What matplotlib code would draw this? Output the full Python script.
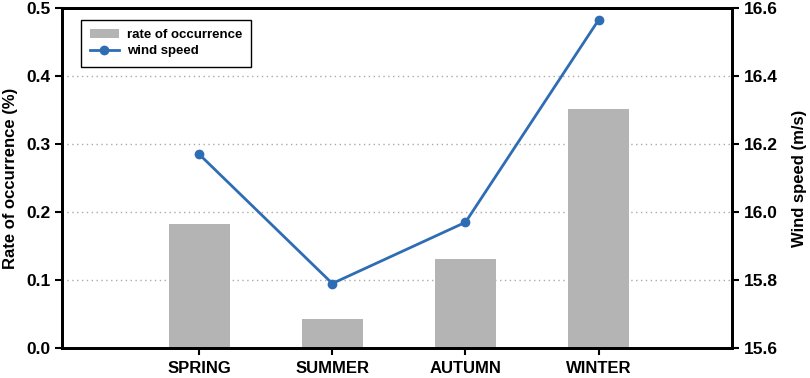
import matplotlib.pyplot as plt
import numpy as np

plt.rcParams['font.family'] = ['Liberation Sans', 'DejaVu Sans']
plt.rcParams['font.weight'] = 'bold'

# data
seasons = ['SPRING', 'SUMMER', 'AUTUMN', 'WINTER']
occurrence = [0.182, 0.043, 0.131, 0.351]
wind_speed = [16.17, 15.79, 15.97, 16.565]

bar_color = '#b4b4b4'
line_color = '#2e6db4'

fig = plt.figure(figsize=(8.1, 3.78), dpi=100)
ax = fig.add_axes([0.0765, 0.079, 0.827, 0.90])
x = np.arange(len(seasons))

bars = ax.bar(x, occurrence, width=0.46, color=bar_color, label='rate of occurrence', zorder=2)
ax.set_ylim(0, 0.5)
ax.set_xlim(-1.03, 4.0)
ax.set_yticks(np.arange(0, 0.51, 0.1))
ax.set_yticklabels(['%.1f' % v for v in np.arange(0, 0.51, 0.1)])
ax.set_xticks(x)
ax.set_xticklabels(seasons)
for yv in [0.1, 0.2, 0.3, 0.4]:
    ax.axhline(yv, color='#aaaaaa', linestyle=(0, (1, 2.5)), linewidth=1, zorder=1)
ax.set_ylabel('Rate of occurrence (%)', fontsize=12, fontweight='bold', labelpad=6)

ax2 = ax.twinx()
line, = ax2.plot(x, wind_speed, color=line_color, marker='o', markersize=6, linewidth=2, label='wind speed')
ax2.set_ylim(15.6, 16.6)
ax2.set_yticks(np.arange(15.6, 16.61, 0.2))
ax2.set_yticklabels(['%.1f' % v for v in np.arange(15.6, 16.61, 0.2)])
ax2.set_ylabel('Wind speed (m/s)', fontsize=12, fontweight='bold', labelpad=10)

for a in (ax, ax2):
    for s in a.spines.values():
        s.set_linewidth(2)
    a.tick_params(axis='both', direction='out', width=1.5, length=5, labelsize=12.5)
ax.tick_params(axis='x', pad=4, labelsize=12)

leg = ax.legend([bars, line], ['rate of occurrence', 'wind speed'], loc='upper left',
                bbox_to_anchor=(0.018, 0.985), fancybox=False, edgecolor='black',
                framealpha=1, fontsize=9.5, borderpad=0.7, handlelength=2.2,
                handletextpad=0.6, labelspacing=0.3)
leg.get_frame().set_linewidth(1)

fig.savefig('out.png', dpi=100)
